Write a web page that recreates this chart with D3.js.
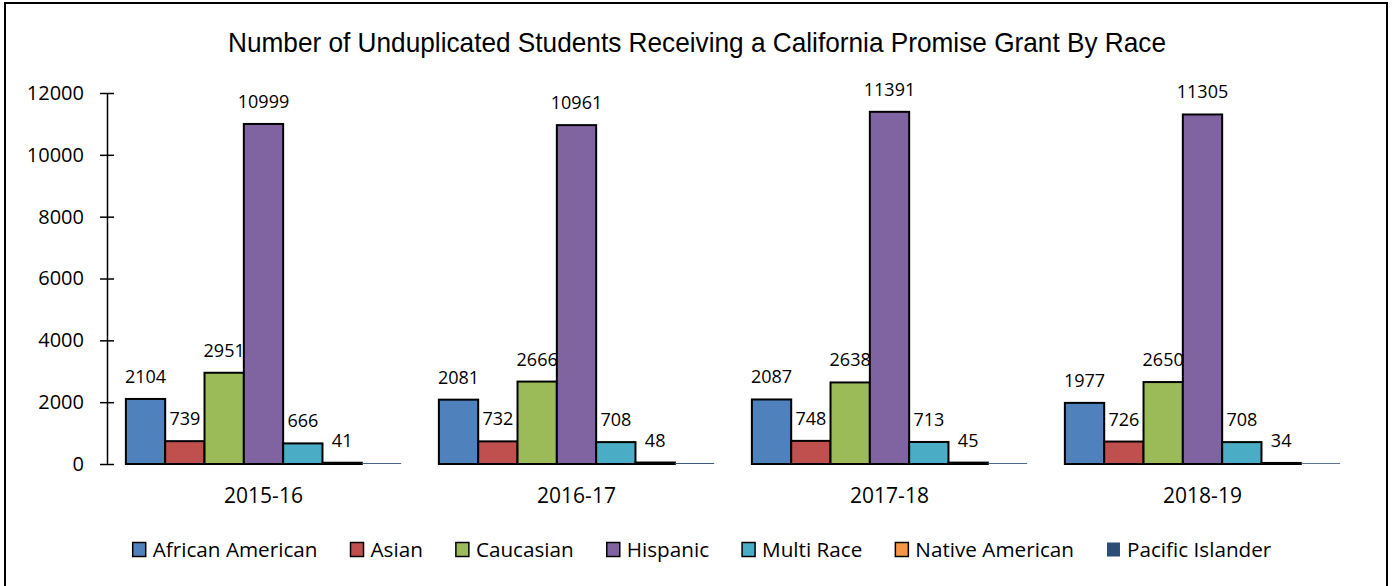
<!DOCTYPE html>
<html>
<head>
<meta charset="utf-8">
<script src="https://cdn.jsdelivr.net/npm/d3@7"></script>
<style>
  body { margin: 0; background: #fff; }
  svg { display: block; }
</style>
</head>
<body>
<div id="chart-container"></div>
<script>
// values
const categories = ['2015-16', '2016-17', '2017-18', '2018-19'];
const seriesNames = ['African American', 'Asian', 'Caucasian', 'Hispanic', 'Multi Race', 'Native American', 'Pacific Islander'];
const africanAmerican = [2104, 2081, 2087, 1977];
const asian = [739, 732, 748, 726];
const caucasian = [2951, 2666, 2638, 2650];
const hispanic = [10999, 10961, 11391, 11305];
const multiRace = [666, 708, 713, 708];
const nativeAmerican = [41, 48, 45, 34];
const pacificIslander = [28, 30, 27, 25]; // no labels shown, estimated from the thin line
const yTicks = [0, 2000, 4000, 6000, 8000, 10000, 12000];

const seriesValues = [africanAmerican, asian, caucasian, hispanic, multiRace, nativeAmerican, pacificIslander];
const colors = ['#4F81BD', '#C0504D', '#9BBB59', '#8064A2', '#4BACC6', '#F79646', '#2C4D75'];

const W = 1393, H = 586;
const labelFont = "'Open Sans', sans-serif";

const svg = d3.select('#chart-container')
  .append('svg')
    .attr('width', W)
    .attr('height', H);

// chart border
svg.append('rect')
  .attr('x', 5).attr('y', 3)
  .attr('width', 1382).attr('height', 600)
  .attr('fill', '#fff')
  .attr('stroke', '#000')
  .attr('stroke-width', 2);

// title (narrow Arial look, squeezed to the original width)
svg.append('text')
  .attr('x', 228)
  .attr('y', 52)
  .attr('textLength', 938)
  .attr('lengthAdjust', 'spacingAndGlyphs')
  .style('font-family', "'Liberation Sans', Arial, sans-serif")
  .style('font-size', '28px')
  .attr('fill', '#000')
  .text('Number of Unduplicated Students Receiving a California Promise Grant By Race');

// scales
const x0 = d3.scaleBand()
  .domain(categories)
  .range([107, 1359])
  .paddingInner(0)
  .paddingOuter(0);

const x1 = d3.scaleBand()
  .domain(seriesNames)
  .range([0, x0.bandwidth()])
  .paddingInner(0)
  .paddingOuter(0.48);

const y = d3.scaleLinear()
  .domain([0, 12000])
  .range([464, 93]);

// y axis, ticks cross the axis line
const yAxis = svg.append('g')
  .attr('transform', 'translate(107,0)')
  .call(d3.axisLeft(y).tickValues(yTicks).tickFormat(d3.format('d'))
    .tickSize(7).tickSizeOuter(0).tickPadding(16));
yAxis.select('.domain').attr('stroke', '#000').attr('stroke-width', 1.5);
yAxis.selectAll('.tick line').attr('x1', 7).attr('stroke', '#000').attr('stroke-width', 1.5);
yAxis.selectAll('.tick text')
  .style('font-family', labelFont)
  .style('font-size', '20px')
  .attr('fill', '#000');

// x category labels
svg.append('g')
  .selectAll('text')
  .data(categories)
  .enter()
  .append('text')
    .attr('x', d => x0(d) + x0.bandwidth() / 2)
    .attr('y', 503)
    .attr('text-anchor', 'middle')
    .style('font-family', labelFont)
    .style('font-size', '21px')
    .attr('fill', '#000')
    .text(d => d);

// bars
const rows = [];
categories.forEach((c, i) => {
  seriesNames.forEach((s, j) => {
    rows.push({ cat: c, series: s, idx: j, value: seriesValues[j][i] });
  });
});

svg.append('g')
  .selectAll('rect')
  .data(rows)
  .enter()
  .append('rect')
    .attr('x', d => x0(d.cat) + x1(d.series))
    .attr('y', d => y(d.value))
    .attr('width', x1.bandwidth())
    .attr('height', d => y(0) - y(d.value))
    .attr('fill', d => colors[d.idx])
    .attr('stroke', d => d.idx < 6 ? '#000' : 'none')
    .attr('stroke-width', 2);

// data labels (Pacific Islander has none)
svg.append('g')
  .selectAll('text')
  .data(rows.filter(d => d.idx < 6))
  .enter()
  .append('text')
    .attr('x', d => x0(d.cat) + x1(d.series) + x1.bandwidth() / 2)
    .attr('y', d => y(d.value) - 16)
    .attr('text-anchor', 'middle')
    .style('font-family', labelFont)
    .style('font-size', '18px')
    .attr('fill', '#000')
    .text(d => d.value);

// legend
const legend = svg.append('g');
const items = legend.selectAll('g')
  .data(seriesNames)
  .enter()
  .append('g');
items.append('rect')
  .attr('width', 13).attr('height', 14)
  .attr('y', 542.5)
  .attr('fill', (d, i) => colors[i])
  .attr('stroke', (d, i) => i < 6 ? '#000' : 'none')
  .attr('stroke-width', 1.5);
items.append('text')
  .attr('x', 20)
  .attr('y', 557)
  .style('font-family', labelFont)
  .style('font-size', '20.7px')
  .attr('fill', '#000')
  .text(d => d);

let cursor = 0;
const gap = 33;
items.each(function() {
  const w = 20 + this.querySelector('text').getComputedTextLength();
  d3.select(this).attr('data-x', cursor);
  cursor += w + gap;
});
const total = cursor - gap;
const start = 702 - total / 2;
items.attr('transform', function() { return 'translate(' + (start + +this.getAttribute('data-x')) + ',0)'; });
</script>
</body>
</html>
